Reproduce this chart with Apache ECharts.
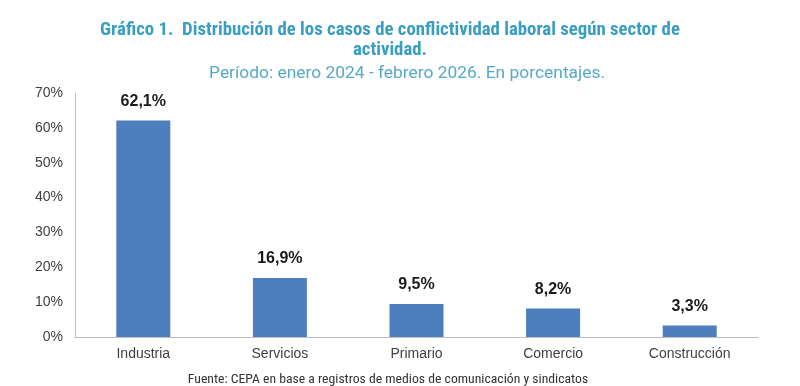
<!DOCTYPE html>
<html><head><meta charset="utf-8">
<script src="https://cdn.jsdelivr.net/npm/echarts@6/dist/echarts.min.js"></script>
<style>html,body{margin:0;padding:0;background:#fff}#c{width:800px;height:386px}</style>
</head><body><div id="c"></div>
<script>
const categories = ['Industria','Servicios','Primario','Comercio','Construcción'];
const values = [62.1, 16.9, 9.5, 8.2, 3.3];
const yTicks = [0,10,20,30,40,50,60,70];
const chart = echarts.init(document.getElementById('c'));
const narrow = '"Liberation Sans Narrow", "Roboto Condensed", Roboto, sans-serif';
const arial = '"Liberation Sans", Arial, sans-serif';
chart.setOption({
  animation:false,
  title:[
    {text:'Gráfico 1.  Distribución de los casos de conflictividad laboral según sector de\nactividad.', left:385, top:15, textAlign:'center',
     textStyle:{fontFamily:narrow, fontSize:18.8, fontWeight:'bold', color:'#3a9ec0', lineHeight:20}},
    {text:'Período: enero 2024 - febrero 2026. En porcentajes.', left:402, top:60, textAlign:'center',
     textStyle:{fontFamily:'Roboto, sans-serif', fontSize:17.4, fontWeight:'normal', color:'#56a9c8'}},
    {text:'Fuente: CEPA en base a registros de medios de comunicación y sindicatos', left:383, top:368, textAlign:'center',
     textStyle:{fontFamily:narrow, fontSize:13.7, fontWeight:'normal', color:'#333'}}
  ],
  grid:{left:75, right:42, top:93, bottom:49},
  xAxis:{type:'category', data:categories,
    axisLine:{lineStyle:{color:'#bfbfbf'}}, axisTick:{show:false},
    axisLabel:{color:'#404040', fontFamily:arial, fontSize:14, margin:10}},
  yAxis:{type:'value', min:0, max:70, interval:10,
    axisLine:{show:true, lineStyle:{color:'#bfbfbf'}}, splitLine:{show:false}, axisTick:{show:false},
    axisLabel:{formatter:v=>v+'%', color:'#404040', fontFamily:arial, fontSize:14, margin:12}},
  series:[{type:'bar', data:values, barWidth:54,
    itemStyle:{color:'#4d7fbe'},
    label:{show:true, position:'top', distance:11, formatter:p=>String(p.value).replace('.',',')+'%',
      fontFamily:arial, fontWeight:'bold', fontSize:16, color:'#1a1a1a'}}]
});
</script></body></html>
